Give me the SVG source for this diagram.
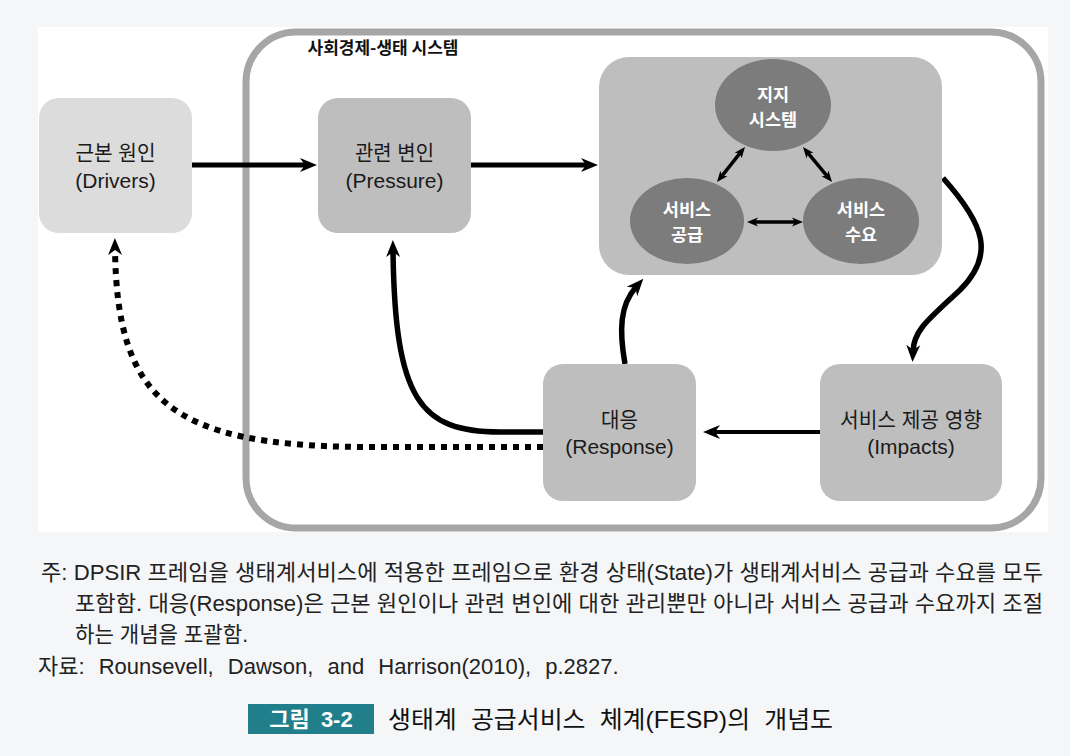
<svg xmlns="http://www.w3.org/2000/svg" width="1070" height="756" viewBox="0 0 1070 756">
  <defs>
    <style>
      .lbl { font-family: "Liberation Sans", "Noto Sans CJK KR", sans-serif; font-size: 21px; fill: #1a1a1a; text-anchor: middle; }
      .eln { font-family: "Noto Sans CJK KR", "Noto Sans", sans-serif; font-size: 17.5px; font-weight: 700; fill: #ffffff; text-anchor: middle; }
      .box { stroke: none; }
      .ell { fill: #7c7c7c; }
      .conn { fill: none; stroke: #000; stroke-linecap: butt; }
      .note { font-family: "Liberation Sans", "Noto Sans CJK KR", sans-serif; font-size: 22px; fill: #222; }
    </style>
    <marker id="ah" markerUnits="userSpaceOnUse" markerWidth="18" markerHeight="16" refX="6" refY="8" orient="auto-start-reverse">
      <path d="M0,1 L17,8 L0,15 L5,8 Z" fill="#000"/>
    </marker>
    <marker id="ahs" markerUnits="userSpaceOnUse" markerWidth="12" markerHeight="11" refX="3" refY="5.5" orient="auto-start-reverse">
      <path d="M0,1 L11,5.5 L0,10 L3,5.5 Z" fill="#000"/>
    </marker>
  </defs>

  <!-- page and panel -->
  <rect x="0" y="0" width="1070" height="756" fill="#f5f6f8"/>
  <rect x="38" y="27" width="1010" height="505" fill="#ffffff"/>

  <!-- socio-ecological system frame -->
  <g id="frame">
    <rect x="246" y="32" width="795" height="496" rx="50" ry="50" fill="none" stroke="#a6a6a6" stroke-width="7"/>
    <text x="383" y="54" text-anchor="middle" font-family="Noto Sans CJK KR, Noto Sans, sans-serif" font-size="17" font-weight="700" fill="#111">사회경제-생태 시스템</text>
  </g>

  <!-- connectors -->
  <g id="connectors">
    <path class="conn" d="M192 165 L306 165" stroke-width="5" marker-end="url(#ah)"/>
    <path class="conn" d="M471 165 L587 165" stroke-width="5" marker-end="url(#ah)"/>
    <path class="conn" d="M943 178 C985 225 995 255 960 290 C928 320 914 330 913 351" stroke-width="5.5" marker-end="url(#ah)"/>
    <path class="conn" d="M820 432 L714 432" stroke-width="4" marker-end="url(#ah)"/>
    <path class="conn" d="M625 364 C619 330 620 305 636 287" stroke-width="5.5" marker-end="url(#ah)"/>
    <path class="conn" d="M543 432 L500 432 C420 432 395 400 393 251" stroke-width="5.5" marker-end="url(#ah)"/>
    <path class="conn" d="M543 447 L360 447 C170 445 117 400 115 249" stroke-width="6" stroke-dasharray="6 6" marker-end="url(#ah)"/>
  </g>

  <!-- Drivers -->
  <g id="drivers">
    <rect class="box" x="39" y="98" width="153" height="135" rx="20" fill="#dcdcdc"/>
    <text class="lbl" x="115.5" y="160" textLength="80" lengthAdjust="spacingAndGlyphs">근본 원인</text>
    <text class="lbl" x="115.5" y="188">(Drivers)</text>
  </g>

  <!-- Pressure -->
  <g id="pressure">
    <rect class="box" x="318" y="98" width="153" height="135" rx="20" fill="#bebebe"/>
    <text class="lbl" x="394.5" y="160" textLength="79" lengthAdjust="spacingAndGlyphs">관련 변인</text>
    <text class="lbl" x="394.5" y="188">(Pressure)</text>
  </g>

  <!-- State -->
  <g id="state">
    <rect class="box" x="599" y="57" width="343" height="218" rx="30" fill="#bebebe"/>
    <g id="support">
      <ellipse class="ell" cx="773" cy="105" rx="58" ry="46"/>
      <text class="eln" x="773" y="101">지지</text>
      <text class="eln" x="773" y="126">시스템</text>
    </g>
    <g id="supply">
      <ellipse class="ell" cx="687" cy="221" rx="57" ry="43"/>
      <text class="eln" x="687" y="216">서비스</text>
      <text class="eln" x="687" y="241">공급</text>
    </g>
    <g id="demand">
      <ellipse class="ell" cx="861" cy="221" rx="58" ry="43"/>
      <text class="eln" x="861" y="216">서비스</text>
      <text class="eln" x="861" y="241">수요</text>
    </g>
    <g id="state-links">
      <path class="conn" d="M740 153.2 L722 175.8" stroke-width="3.5" marker-start="url(#ahs)" marker-end="url(#ahs)"/>
      <path class="conn" d="M808.1 153.2 L826.9 175.8" stroke-width="3.5" marker-start="url(#ahs)" marker-end="url(#ahs)"/>
      <path class="conn" d="M755 222 L795 222" stroke-width="3.5" marker-start="url(#ahs)" marker-end="url(#ahs)"/>
    </g>
  </g>

  <!-- Response -->
  <g id="response">
    <rect class="box" x="543" y="364" width="153" height="137" rx="20" fill="#bebebe"/>
    <text class="lbl" x="619.5" y="427" textLength="37" lengthAdjust="spacingAndGlyphs">대응</text>
    <text class="lbl" x="619.5" y="454">(Response)</text>
  </g>

  <!-- Impacts -->
  <g id="impacts">
    <rect class="box" x="820" y="364" width="182" height="137" rx="20" fill="#bebebe"/>
    <text class="lbl" x="911" y="427" textLength="142" lengthAdjust="spacingAndGlyphs">서비스 제공 영향</text>
    <text class="lbl" x="911" y="454">(Impacts)</text>
  </g>

  <!-- notes -->
  <g id="notes">
    <text class="note" x="41" y="580" textLength="1002" lengthAdjust="spacingAndGlyphs">주: DPSIR 프레임을 생태계서비스에 적용한 프레임으로 환경 상태(State)가 생태계서비스 공급과 수요를 모두</text>
    <text class="note" x="75" y="611" textLength="968" lengthAdjust="spacingAndGlyphs">포함함. 대응(Response)은 근본 원인이나 관련 변인에 대한 관리뿐만 아니라 서비스 공급과 수요까지 조절</text>
    <text class="note" x="75" y="642" textLength="173" lengthAdjust="spacingAndGlyphs">하는 개념을 포괄함.</text>
    <text class="note" x="38" y="674" word-spacing="8">자료: Rounsevell, Dawson, and Harrison(2010), p.2827.</text>
  </g>

  <!-- figure title -->
  <g id="caption">
    <rect x="248" y="704" width="126" height="30" fill="#217f8c"/>
    <text x="311" y="727" text-anchor="middle" word-spacing="5" font-family="Liberation Sans, Noto Sans CJK KR, sans-serif" font-size="22" font-weight="700" fill="#ffffff">그림 3-2</text>
    <text x="388" y="728" word-spacing="7" textLength="445" lengthAdjust="spacingAndGlyphs" font-family="Liberation Sans, Noto Sans CJK KR, sans-serif" font-size="24" fill="#111">생태계 공급서비스 체계(FESP)의 개념도</text>
  </g>
</svg>
